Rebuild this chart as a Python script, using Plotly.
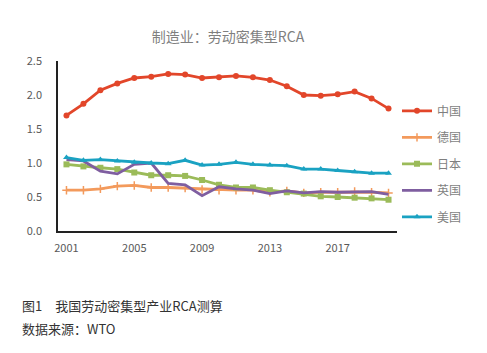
import plotly.graph_objects as go

years = list(range(2001, 2021))
tick_years = [2001, 2005, 2009, 2013, 2017]

china = [1.70, 1.87, 2.07, 2.17, 2.25, 2.27, 2.31, 2.30, 2.25, 2.26, 2.28, 2.26, 2.22, 2.13, 2.00, 1.99, 2.01, 2.05, 1.95, 1.80]
germany = [0.60, 0.60, 0.62, 0.66, 0.67, 0.64, 0.64, 0.63, 0.61, 0.60, 0.60, 0.60, 0.57, 0.59, 0.56, 0.57, 0.57, 0.58, 0.57, 0.56]
japan = [0.98, 0.95, 0.93, 0.91, 0.86, 0.82, 0.82, 0.81, 0.75, 0.68, 0.64, 0.64, 0.60, 0.57, 0.55, 0.51, 0.50, 0.49, 0.48, 0.46]
uk = [1.05, 1.03, 0.88, 0.84, 0.98, 1.00, 0.70, 0.68, 0.52, 0.65, 0.62, 0.60, 0.55, 0.59, 0.56, 0.58, 0.57, 0.57, 0.58, 0.54]
usa = [1.08, 1.04, 1.05, 1.03, 1.01, 1.00, 0.99, 1.04, 0.97, 0.98, 1.01, 0.98, 0.97, 0.96, 0.91, 0.91, 0.89, 0.87, 0.85, 0.85]

names = ["中国", "德国", "日本", "英国", "美国"]
series = [china, germany, japan, uk, usa]
colors = ["#E2462A", "#F39A5C", "#9BBB59", "#7F5EA0", "#1AA2C2"]
symbols = ["circle", "cross-thin", "square", None, "triangle-up"]

fig = go.Figure()
for i, (n, s, c, sym) in enumerate(zip(names, series, colors, symbols)):
    if sym is None:
        fig.add_trace(go.Scatter(x=years, y=s, name=n, mode="lines",
                                 line=dict(color=c, width=2.8), legendgroup=n))
    else:
        mk = dict(symbol=sym, size=6, color=c)
        if sym == "cross-thin":
            mk = dict(symbol=sym, size=6, color=c, line=dict(color=c, width=1.5))
        fig.add_trace(go.Scatter(x=years, y=s, name=n, mode="lines+markers",
                                 line=dict(color=c, width=2.8), marker=mk, legendgroup=n))

fig.update_layout(
    width=487, height=353,
    margin=dict(l=58, r=90, t=61, b=122),
    paper_bgcolor="white", plot_bgcolor="white",
    font=dict(family="Noto Sans CJK SC", color="#595959", size=11),
    title=dict(text="制造业：劳动密集型RCA", x=(58 + 170) / 487, xanchor="center",
               y=1 - 37 / 353, yanchor="middle",
               font=dict(size=14, color="#7F7F7F", family="Noto Sans CJK SC")),
    showlegend=True,
    legend=dict(x=1.0, xanchor="left", y=0.395, yanchor="middle",
                font=dict(size=12, color="#7F7F7F"), itemwidth=30,
                tracegroupgap=7.5, bgcolor="rgba(0,0,0,0)"),
    xaxis=dict(range=[2000.5, 2020.5], tickvals=tick_years, ticktext=[str(t) for t in tick_years],
               showgrid=False, zeroline=False, showline=True, linecolor="#222", linewidth=1.5,
               ticks="", ticklabelstandoff=6, tickfont=dict(size=11, color="#595959")),
    yaxis=dict(range=[0, 2.5], dtick=0.5, tickformat=".1f", showgrid=False, zeroline=False,
               showline=True, linecolor="#222", linewidth=1.5, ticks="", ticklabelstandoff=12,
               tickfont=dict(size=11, color="#595959")),
)

fig.add_annotation(text="图1　我国劳动密集型产业RCA测算", xref="paper", yref="paper",
                   x=(20 - 58) / 339, y=(231 - 305) / 170, xanchor="left", yanchor="middle",
                   showarrow=False, font=dict(size=13, color="#333", family="Noto Sans CJK SC"))
fig.add_annotation(text="数据来源：WTO", xref="paper", yref="paper",
                   x=(20 - 58) / 339, y=(231 - 328) / 170, xanchor="left", yanchor="middle",
                   showarrow=False, font=dict(size=13, color="#333", family="Noto Sans CJK SC"))

fig.write_html("out.html")
